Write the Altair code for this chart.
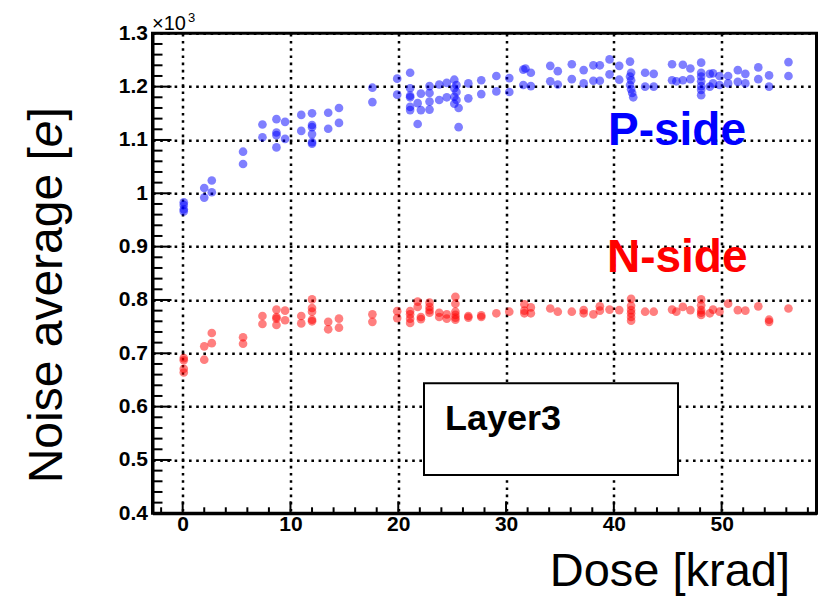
import altair as alt
import pandas as pd

# ---------------- data (noise in units of 10^3 e, dose in krad) ----------------
p_dose = [0.1, 0.1, 0.1, 0.1, 2.0, 2.0, 2.7, 2.7, 5.6, 5.6, 7.4, 7.4,
          8.7, 8.7, 8.7, 8.7, 9.5, 9.5, 11.0, 11.0,
          12.0, 12.0, 12.0, 12.0, 12.0, 12.0, 13.5, 13.5, 14.5, 14.5,
          17.6, 17.6, 19.9, 19.9,
          21.1, 21.1, 21.1, 21.1, 21.1, 21.1, 21.8, 21.8, 22.1, 22.1,
          22.9, 22.9, 22.9, 22.9, 23.8, 23.8, 24.5, 24.5,
          25.2, 25.2, 25.2, 25.2, 25.4, 25.4, 25.4, 25.6, 25.6,
          26.5, 26.5, 27.7, 27.7, 29.1, 29.1, 30.3, 30.3,
          31.6, 31.6, 31.8, 32.3, 32.3, 34.1, 34.1, 34.8, 34.8,
          36.1, 36.1, 37.2, 37.2, 38.1, 38.1, 38.7, 38.7, 39.6, 39.6,
          40.5, 40.5,
          41.5, 41.6, 41.5, 41.6, 41.5, 41.6, 41.7, 41.8,
          42.9, 42.9, 43.7, 43.7, 45.4, 45.4, 45.8, 46.4, 46.4, 47.1, 47.1,
          48.1, 48.1, 48.1, 48.1, 48.1, 48.1, 48.1,
          48.9, 48.9, 49.2, 49.2, 49.8, 49.8, 50.6, 50.6, 51.5, 51.5,
          52.2, 52.2, 53.4, 53.4, 54.4, 54.4, 56.2, 56.2]
p_noise = [0.983, 0.978, 0.970, 0.966, 1.010, 0.992, 1.024, 1.002, 1.078, 1.055, 1.129, 1.105,
           1.139, 1.114, 1.109, 1.086, 1.134, 1.102, 1.147, 1.117,
           1.150, 1.128, 1.124, 1.111, 1.096, 1.093, 1.151, 1.121, 1.160, 1.132,
           1.198, 1.171, 1.215, 1.185,
           1.226, 1.197, 1.183, 1.180, 1.162, 1.156, 1.169, 1.130, 1.187, 1.156,
           1.201, 1.188, 1.172, 1.157, 1.204, 1.175, 1.207, 1.180,
           1.213, 1.197, 1.181, 1.168, 1.203, 1.190, 1.175, 1.160, 1.124,
           1.206, 1.178, 1.212, 1.186, 1.220, 1.191, 1.216, 1.190,
           1.232, 1.203, 1.234, 1.226, 1.201, 1.239, 1.210, 1.229, 1.204,
           1.242, 1.214, 1.231, 1.206, 1.240, 1.211, 1.240, 1.211, 1.251, 1.223,
           1.239, 1.213,
           1.247, 1.226, 1.219, 1.212, 1.203, 1.195, 1.188, 1.180,
           1.226, 1.200, 1.224, 1.200, 1.242, 1.212, 1.210, 1.241, 1.212, 1.234, 1.214,
           1.245, 1.226, 1.219, 1.210, 1.201, 1.194, 1.184,
           1.224, 1.200, 1.225, 1.206, 1.220, 1.203, 1.220, 1.206, 1.231, 1.209,
           1.224, 1.206, 1.236, 1.214, 1.221, 1.200, 1.246, 1.220]

n_dose = [0.1, 0.1, 0.1, 0.1, 2.0, 2.0, 2.7, 2.7, 5.6, 5.6, 7.4, 7.4,
          8.7, 8.7, 8.7, 8.7, 9.5, 9.5, 11.0, 11.0,
          12.0, 12.0, 12.0, 12.0, 12.0, 13.5, 13.5, 14.5, 14.5,
          17.6, 17.6, 19.9, 19.9,
          21.1, 21.1, 21.1, 21.1, 21.8, 21.8, 22.1, 22.1,
          22.9, 22.9, 22.9, 22.9, 23.8, 23.8, 24.5, 24.5,
          25.3, 25.3, 25.3, 25.3, 25.3, 25.3,
          26.5, 26.5, 27.7, 27.7, 29.1, 30.3,
          31.7, 31.7, 31.7, 32.3, 32.3, 34.1, 34.8, 36.1, 37.2, 37.2,
          38.1, 38.7, 38.7, 39.6, 40.5,
          41.6, 41.6, 41.6, 41.6, 41.6, 41.6,
          42.9, 43.7, 45.4, 45.8, 46.4, 47.1,
          48.1, 48.1, 48.1, 48.1, 48.1,
          48.9, 49.2, 49.8, 50.6, 51.5, 52.2, 53.4, 54.4, 54.4, 56.2]
n_noise = [0.691, 0.687, 0.671, 0.664, 0.713, 0.688, 0.738, 0.719, 0.730, 0.718, 0.770, 0.755,
           0.782, 0.768, 0.765, 0.753, 0.780, 0.762, 0.770, 0.756,
           0.801, 0.785, 0.778, 0.763, 0.760, 0.759, 0.745, 0.765, 0.748,
           0.773, 0.759, 0.779, 0.766,
           0.779, 0.773, 0.765, 0.757, 0.797, 0.787, 0.768, 0.764,
           0.795, 0.787, 0.781, 0.776, 0.776, 0.768, 0.773, 0.765,
           0.806, 0.793, 0.778, 0.772, 0.767, 0.763,
           0.770, 0.767, 0.771, 0.768, 0.775, 0.778,
           0.792, 0.780, 0.775, 0.786, 0.775, 0.784, 0.778, 0.778, 0.781, 0.775,
           0.773, 0.788, 0.780, 0.782, 0.781,
           0.802, 0.789, 0.781, 0.775, 0.768, 0.761,
           0.778, 0.778, 0.782, 0.778, 0.787, 0.781,
           0.801, 0.790, 0.781, 0.776, 0.772,
           0.775, 0.782, 0.778, 0.793, 0.781, 0.780, 0.788, 0.763, 0.759, 0.784]

x_major = [0, 10, 20, 30, 40, 50]
x_minor = [-2, 2, 4, 6, 8, 12, 14, 16, 18, 22, 24, 26, 28, 32, 34, 36, 38,
           42, 44, 46, 48, 52, 54, 56, 58]
y_major = [0.4, 0.5, 0.6, 0.7, 0.8, 0.9, 1.0, 1.1, 1.2, 1.3]
y_minor = [0.42, 0.44, 0.46, 0.48, 0.52, 0.54, 0.56, 0.58, 0.62, 0.64, 0.66, 0.68,
           0.72, 0.74, 0.76, 0.78, 0.82, 0.84, 0.86, 0.88, 0.92, 0.94, 0.96, 0.98,
           1.02, 1.04, 1.06, 1.08, 1.12, 1.14, 1.16, 1.18, 1.22, 1.24, 1.26, 1.28]

# ---------------- chart ----------------
FONT = "Liberation Sans"
W, H = 664, 480
xs = alt.Scale(domain=[-2.8, 58.8], nice=False, zero=False)
ys = alt.Scale(domain=[0.4, 1.3], nice=False, zero=False)

grid_common = dict(grid=True, gridDash=[2.6, 4.6], gridColor="black", gridWidth=2.5,
                   gridOpacity=1, ticks=False, tickSize=0, domain=True,
                   domainColor="black", domainWidth=3, labelFont=FONT,
                   labelFontWeight="bold", labelFontSize=21, labelColor="black",
                   title=None, labelFlush=False)
x_axis = alt.Axis(values=x_major, labelPadding=0, **grid_common)
y_axis = alt.Axis(values=y_major, format=".1~f", labelPadding=5, **grid_common)


def X(field):
    return alt.X(field, type="quantitative", scale=xs, axis=x_axis)


def Y(field):
    return alt.Y(field, type="quantitative", scale=ys, axis=y_axis)


p_df = pd.DataFrame({"dose": p_dose, "noise": p_noise})
n_df = pd.DataFrame({"dose": n_dose, "noise": n_noise})

pts_p = alt.Chart(p_df).mark_circle(size=75, color="#0000ff", opacity=0.5).encode(
    x=X("dose"), y=Y("noise"))
pts_n = alt.Chart(n_df).mark_circle(size=75, color="#ff0000", opacity=0.5).encode(
    x=X("dose"), y=Y("noise"))


def yticks(vals, length):
    return alt.Chart(pd.DataFrame({"v": vals})).mark_rule(color="black", strokeWidth=2).encode(
        y=Y("v"), x=alt.value(0), x2=alt.value(length))


def xticks(vals, length):
    return alt.Chart(pd.DataFrame({"v": vals})).mark_rule(color="black", strokeWidth=2).encode(
        x=X("v"), y=alt.value(H), y2=alt.value(H - length))


def label(txt, x, y, size, color="black", weight="normal", align="left",
          angle=0, style="normal"):
    return alt.Chart(pd.DataFrame({"t": [txt]})).mark_text(
        font=FONT, fontSize=size, fontWeight=weight, color=color, align=align,
        baseline="alphabetic", angle=angle, fontStyle=style).encode(
        x=alt.value(x), y=alt.value(y), text="t:N")


box = alt.Chart(pd.DataFrame({"a": [0]})).mark_rect(
    fill="white", stroke="black", strokeWidth=2).encode(
    x=alt.value(271.5), x2=alt.value(525.5), y=alt.value(350), y2=alt.value(441.7))

layers = [
    pts_p, pts_n,
    yticks(y_major, 19), yticks(y_minor, 10),
    xticks(x_major, 12), xticks(x_minor, 6),
    box,
    label("Layer3", 292.5, 396.7, 36, weight="bold"),
    label("P-side", 455.5, 111.7, 46, color="#0000ff", weight="bold"),
    label("N-side", 454.5, 238.7, 46, color="#ff0000", weight="bold"),
    label("\u00d710", -0.5, -3.3, 20),
    label("3", 35.5, -11, 13),
    label("Dose [krad]", 637.5, 553, 47, align="right"),
    label("Noise average [", -90.8, 450, 48, angle=270),
    label("e", -90.8, 114, 48, angle=270, style="italic"),
    label("]", -90.8, 87.3, 48, angle=270),
]

chart = alt.layer(*layers).properties(
    width=W, height=H,
    autosize=alt.AutoSizeParams(type="none"),
    padding={"left": 144.5, "top": 25.3, "right": 5, "bottom": 83},
).configure(background="white").configure_view(stroke="black", strokeWidth=3)

chart.save("out.html", embed_options={"renderer": "svg", "actions": False})
